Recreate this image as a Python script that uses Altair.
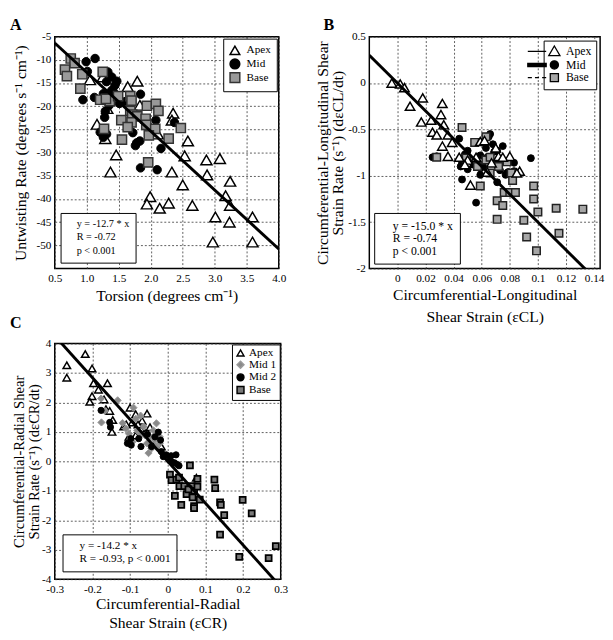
import altair as alt
import pandas as pd

FONT = "Liberation Serif"
MINUS = "replace(datum.label, '\u2212', '-')"

# ---------------- Panel A : torsion vs untwisting rate ----------------
a_apex_x = [1.05, 1.25, 1.16, 1.29, 1.32, 1.46, 1.37, 1.64, 1.79, 1.83, 1.99, 1.94, 2.11, 2.14, 2.28, 2.33, 2.35,
            2.33, 2.50, 2.53, 2.58, 2.65, 2.87, 2.88, 3.08, 3.24, 3.17, 3.24, 3.01, 3.23, 2.97, 3.59, 3.59]
a_apex_y = [-14.3, -13.7, -23.9, -27.0, -20.5, -30.5, -34.2, -15.8, -14.6, -19.8, -39.5, -41.1, -26.0, -42.0, -40.9,
            -34.2, -21.5, -23.0, -37.0, -30.7, -27.5, -41.4, -31.6, -34.8, -31.3, -36.2, -39.3, -41.4, -43.9, -45.0,
            -49.3, -43.9, -49.3]
a_mid_x = [0.99, 1.13, 1.01, 0.94, 1.12, 1.33, 1.39, 1.31, 1.44, 1.39, 1.26, 1.31, 1.44, 1.51, 1.47, 1.84, 1.28,
           1.21, 1.31, 1.26, 1.72, 1.78, 1.83, 1.76, 2.08, 2.16, 1.84, 2.10, 1.29, 1.35, 1.60, 2.37, 1.42]
a_mid_y = [-10.4, -9.7, -12.5, -18.6, -18.1, -12.6, -13.7, -14.7, -15.5, -16.6, -17.3, -18.3, -18.0, -19.4, -14.6,
           -17.4, -22.4, -25.6, -26.0, -26.7, -25.7, -27.9, -27.5, -28.5, -23.0, -29.1, -33.3, -33.7, -21.1, -19.8,
           -19.0, -23.5, -17.0]
a_base_x = [0.75, 0.81, 0.66, 0.69, 0.93, 0.90, 1.25, 1.21, 1.36, 1.49, 1.68, 1.70, 1.68, 1.71, 1.94, 2.08, 2.12,
            1.79, 1.92, 1.54, 1.70, 1.64, 1.93, 2.07, 1.97, 1.27, 1.55, 2.28, 2.47, 1.96, 1.30]
a_base_y = [-9.7, -10.7, -12.1, -13.5, -13.1, -16.2, -12.6, -18.6, -18.9, -17.8, -17.8, -18.8, -21.0, -21.8, -19.9,
            -19.5, -21.0, -22.2, -22.7, -23.0, -23.5, -24.5, -24.0, -24.9, -26.3, -24.9, -27.2, -27.0, -24.7, -32.1,
            -18.4]
a_slope = -12.7
a_fit_x = [0.5, 4.0]
a_notes = ["y = -12.7 * x", "R = -0.72", "p < 0.001"]
a_x_ticks = [0.5, 1.0, 1.5, 2.0, 2.5, 3.0, 3.5, 4.0]
a_y_ticks = [-5, -10, -15, -20, -25, -30, -35, -40, -45, -50]

# ---------------- Panel B : circumferential-longitudinal shear ----------------
b_apex_x = [-0.004, 0.002, 0.005, 0.009, 0.018, 0.017, 0.024, 0.032, 0.031, 0.033, 0.025, 0.028, 0.036, 0.032,
            0.036, 0.039, 0.044, 0.052, 0.059, 0.067, 0.072, 0.087, 0.080, 0.050, 0.062, 0.070, 0.075, 0.048, 0.064,
            0.085, 0.056]
b_apex_y = [0.0, -0.01, -0.05, -0.25, -0.16, -0.42, -0.40, -0.22, -0.34, -0.45, -0.53, -0.56, -0.56, -0.68, -0.79,
            -0.64, -0.80, -1.10, -0.63, -0.86, -0.79, -0.95, -0.79, -0.83, -0.62, -0.70, -0.80, -0.88, -0.96, -0.97,
            -0.80]
b_mid_x = [0.044, 0.025, 0.028, 0.050, 0.046, 0.045, 0.046, 0.050, 0.054, 0.059, 0.065, 0.066, 0.068, 0.069, 0.071,
           0.073, 0.071, 0.077, 0.083, 0.079, 0.095, 0.056, 0.064, 0.059, 0.071, 0.059, 0.061, 0.083, 0.078, 0.050,
           0.048, 0.063, 0.075]
b_mid_y = [-0.60, -0.80, -0.79, -0.73, -0.86, -0.90, -1.04, -0.82, -0.88, -0.78, -0.58, -0.55, -0.66, -0.74, -0.73,
           -0.94, -1.07, -0.99, -0.86, -0.96, -0.81, -1.29, -0.80, -0.92, -0.85, -0.99, -0.90, -0.95, -0.97, -0.93,
           -0.77, -0.70, -0.68]
b_base_x = [0.046, 0.028, 0.055, 0.063, 0.049, 0.057, 0.063, 0.066, 0.059, 0.071, 0.075, 0.078, 0.081, 0.082, 0.076,
            0.080, 0.084, 0.071, 0.090, 0.092, 0.097, 0.097, 0.100, 0.099, 0.113, 0.115, 0.132, 0.066, 0.072]
b_base_y = [-0.48, -0.80, -0.64, -0.58, -0.81, -0.90, -0.83, -0.97, -1.11, -1.27, -1.32, -0.85, -0.97, -1.05, -1.18,
            -1.18, -1.18, -1.47, -1.48, -1.66, -1.11, -1.25, -1.39, -1.81, -1.35, -1.62, -1.36, -0.80, -0.90]
b_slope = -15.0
b_fit_x = [-0.02, 0.1443]
b_notes = ["y = -15.0 * x", "R = -0.74", "p < 0.001"]
b_x_ticks = [0, 0.02, 0.04, 0.06, 0.08, 0.1, 0.12, 0.14]
b_y_ticks = [0.5, 0, -0.5, -1, -1.5, -2]

# ---------------- Panel C : circumferential-radial shear ----------------
c_apex_x = [-0.268, -0.268, -0.219, -0.201, -0.197, -0.201, -0.207, -0.184, -0.160, -0.169, -0.164, -0.154, -0.146,
            -0.148, -0.117, -0.100, -0.094, -0.085, -0.068, -0.055, -0.072, -0.085, -0.103, -0.047, -0.017, 0.076,
            -0.110, -0.060, -0.030, -0.079]
c_apex_y = [3.26, 2.84, 3.64, 3.15, 2.65, 2.21, 2.02, 2.43, 2.65, 2.10, 1.77, 1.71, 1.40, 1.00, 1.18, 1.82, 1.32,
            1.60, 1.38, 1.62, 1.11, 0.88, 0.83, 1.16, 0.50, -0.56, 1.25, 0.95, 0.70, 1.25]
c_mid1_x = [-0.177, -0.167, -0.176, -0.133, -0.091, -0.111, -0.064, -0.030, -0.047, -0.034, -0.051, -0.043, -0.021,
            -0.081, -0.072, -0.103, -0.060, -0.038, -0.094, -0.085, -0.072, -0.030, -0.055, -0.021, -0.120]
c_mid1_y = [2.13, 1.71, 1.32, 2.07, 1.82, 1.11, 1.18, 1.29, 0.83, 0.72, 0.28, 0.44, 0.61, 1.05, 0.94, 0.94, 0.88,
            1.05, 0.66, 1.44, 1.55, 0.50, 0.61, 0.83, 1.30]
c_mid2_x = [-0.177, -0.154, -0.152, -0.107, -0.097, -0.071, -0.098, -0.077, -0.034, -0.025, -0.019, -0.017, -0.004,
            0.009, 0.022, 0.018, 0.026, 0.005, -0.043, -0.054, 0.010, -0.012, 0.030]
c_mid2_y = [1.73, 1.32, 1.16, 0.61, 0.55, 0.50, 0.77, 0.77, 0.83, 0.99, 0.72, 0.33, 0.22, 0.19, 0.22, -0.05, -0.11,
            0.03, 0.50, 0.92, -0.01, 0.16, -0.15]
c_base_x = [0.059, 0.006, 0.010, 0.023, 0.031, 0.019, 0.036, 0.044, 0.050, 0.064, 0.070, 0.066, 0.070, 0.079, 0.079,
            0.085, 0.070, 0.124, 0.126, 0.139, 0.141, 0.150, 0.139, 0.199, 0.223, 0.190, 0.268, 0.287, 0.030, 0.055]
c_base_y = [-0.14, -0.45, -0.64, -0.62, -0.84, -1.17, -1.48, -0.84, -1.11, -0.84, -1.00, -1.22, -1.52, -0.60, -0.86,
            -1.30, -1.59, -0.62, -0.91, -1.39, -1.48, -1.83, -2.49, -1.31, -1.77, -3.24, -3.29, -2.88, -0.55, -0.95]
c_slope = -14.2
c_fit_x = [-0.3, 0.3]
c_notes = ["y = -14.2 * x", "R = -0.93, p < 0.001"]
c_x_ticks = [-0.3, -0.2, -0.1, 0, 0.1, 0.2, 0.3]
c_y_ticks = [4, 3, 2, 1, 0, -1, -2, -3, -4]


def make_axis(title, values, fmt, label_pad, title_pad, line_h=None, title_size=16):
    kw = dict(title=title, values=values, format=fmt, labelExpr=MINUS, grid=True, gridDash=[2, 2],
              gridColor="#333333", gridWidth=0.8, gridOpacity=1, ticks=False, domain=False,
              labelFont=FONT, labelFontSize=11.5, labelColor="black", labelPadding=label_pad,
              labelFlush=False, labelOverlap=False,
              titleFont=FONT, titleFontSize=title_size, titleFontWeight="normal", titleColor="black",
              titlePadding=title_pad)
    if line_h is not None:
        kw["titleLineHeight"] = line_h
    return alt.Axis(**kw)


def series_layer(xs, ys, shape, fill, stroke, size, sw, xe, ye):
    df = pd.DataFrame({"x": xs, "y": ys})
    return alt.Chart(df).mark_point(shape=shape, filled=True, fill=fill, stroke=stroke, size=size,
                                    strokeWidth=sw, opacity=1).encode(x=xe, y=ye)


def fit_layer(fit_x, slope, xe, ye):
    df = pd.DataFrame({"x": fit_x, "y": [slope * v for v in fit_x]})
    return alt.Chart(df).mark_line(color="black", strokeWidth=3, clip=True).encode(x=xe, y=ye)


def legend_layer(names, shapes, fills, strokes, legend):
    df = pd.DataFrame({"k": names})
    return alt.Chart(df).mark_point(filled=True, opacity=0).encode(
        shape=alt.Shape("k:N", scale=alt.Scale(domain=names, range=shapes), legend=legend, title=None),
        fill=alt.Fill("k:N", scale=alt.Scale(domain=names, range=fills), legend=legend, title=None),
        stroke=alt.Stroke("k:N", scale=alt.Scale(domain=names, range=strokes), legend=legend, title=None),
    )


def note_layer(notes, size, offset, padding, row_pad):
    df = pd.DataFrame({"note": notes})
    leg = alt.Legend(title=None, orient="bottom-left", offset=offset, padding=padding, strokeColor="black",
                     fillColor="white", symbolSize=0, symbolOpacity=0, symbolStrokeWidth=0, labelOffset=0,
                     labelFont=FONT, labelFontSize=size, labelColor="black", rowPadding=row_pad, labelLimit=300)
    return alt.Chart(df).mark_point(opacity=0).encode(
        color=alt.Color("note:N", scale=alt.Scale(domain=notes, range=["white"] * len(notes)), legend=leg))


def letter_layer(letter, dx, dy):
    df = pd.DataFrame({"t": [letter]})
    return alt.Chart(df).mark_text(font=FONT, fontSize=16.5, fontWeight="bold", align="left",
                                   baseline="alphabetic", color="black").encode(
        text="t:N", x=alt.value(dx), y=alt.value(dy))


# ---------- A ----------
xA = alt.X("x:Q", scale=alt.Scale(domain=[0.5, 4.0], nice=False, zero=False),
           axis=make_axis("Torsion (degrees cm\u207b\u00b9)", a_x_ticks, ".1f", 4, 4))
yA = alt.Y("y:Q", scale=alt.Scale(domain=[-55, -5], nice=False, zero=False),
           axis=make_axis("Untwisting Rate (degrees s\u207b\u00b9 cm\u207b\u00b9)", a_y_ticks, "d", 4, 8))
legA = alt.Legend(title=None, orient="top-right", offset=2, padding=6, strokeColor="black", fillColor="white",
                  labelFont=FONT, labelFontSize=11.5, labelColor="black", symbolSize=100, symbolOpacity=1,
                  symbolStrokeWidth=1.5, rowPadding=-3, labelOffset=6)
A = alt.layer(
    series_layer(a_apex_x, a_apex_y, "triangle-up", "white", "black", 130, 1.5, xA, yA),
    series_layer(a_mid_x, a_mid_y, "circle", "black", "black", 75, 1, xA, yA),
    series_layer(a_base_x, a_base_y, "square", "#999999", "#333333", 90, 1.5, xA, yA),
    fit_layer(a_fit_x, a_slope, xA, yA),
    legend_layer(["Apex", "Mid", "Base"], ["triangle-up", "circle", "square"], ["white", "black", "#999999"],
                 ["black", "black", "#333333"], legA),
    note_layer(a_notes, 10.5, 6, 6, 3),
    letter_layer("A", -46, -7),
).properties(width=230, height=238)

# ---------- B ----------
xB = alt.X("x:Q", scale=alt.Scale(domain=[-0.02, 0.1443], nice=False, zero=False),
           axis=make_axis(["Circumferential-Longitudinal", "Shear Strain (\u03b5CL)"], b_x_ticks, "~g", 4, 3, 23))
yB = alt.Y("y:Q", scale=alt.Scale(domain=[-2, 0.5], nice=False, zero=False),
           axis=make_axis(["Circumferential-Longitudinal Shear", "Strain Rate (s\u207b\u00b9) (d\u03b5CL/dt)"],
                          b_y_ticks, "~g", 4, 2, 16))
path_apex = "M-5.2,0L-1.6,0M0,-1.05L1.1,0.85L-1.1,0.85Z"
path_mid = "M-5.2,-0.32L-1.6,-0.32L-1.6,0.32L-5.2,0.32ZM0.8,0A0.8,0.8,0,1,1,-0.8,0A0.8,0.8,0,1,1,0.8,0Z"
path_base = "M-5.2,0L-4.4,0M-3.8,0L-3.0,0M-2.4,0L-1.6,0M-0.8,-0.8L0.8,-0.8L0.8,0.8L-0.8,0.8Z"
legB = alt.Legend(title=None, orient="top-right", offset=4, padding=5, strokeColor="black", fillColor="white",
                  labelFont=FONT, labelFontSize=12, labelColor="black", symbolSize=110, symbolOpacity=1,
                  symbolStrokeWidth=1.3, rowPadding=-3, labelOffset=6)
B = alt.layer(
    series_layer(b_mid_x, b_mid_y, "circle", "black", "black", 50, 1, xB, yB),
    series_layer(b_base_x, b_base_y, "square", "#a6a6a6", "#222222", 60, 1.5, xB, yB),
    series_layer(b_apex_x, b_apex_y, "triangle-up", "white", "black", 95, 1.5, xB, yB),
    fit_layer(b_fit_x, b_slope, xB, yB),
    legend_layer(["Apex", "Mid", "Base"], [path_apex, path_mid, path_base], ["white", "black", "#a6a6a6"],
                 ["black", "black", "black"], legB),
    note_layer(b_notes, 12, 5, 7, 1),
    letter_layer("B", -47, -7),
).properties(width=237, height=238)

# ---------- C ----------
xC = alt.X("x:Q", scale=alt.Scale(domain=[-0.3, 0.3], nice=False, zero=False),
           axis=make_axis(["Circumferential-Radial", "Shear Strain (\u03b5CR)"], c_x_ticks, "~g", 5, 1, 19))
yC = alt.Y("y:Q", scale=alt.Scale(domain=[-4, 4], nice=False, zero=False),
           axis=make_axis(["Circumferential-Radial Shear", "Strain Rate (s\u207b\u00b9) (d\u03b5CR/dt)"],
                          c_y_ticks, "d", 4, 0, 15, 15))
legC = alt.Legend(title=None, orient="top-right", offset=1, padding=3, strokeColor="black", fillColor="white",
                  labelFont=FONT, labelFontSize=11.5, labelColor="black", symbolSize=50, symbolOpacity=1,
                  symbolStrokeWidth=1.5, rowPadding=-1, labelOffset=3)
C = alt.layer(
    series_layer(c_apex_x, c_apex_y, "triangle-up", "white", "black", 60, 1.5, xC, yC),
    series_layer(c_mid1_x, c_mid1_y, "diamond", "#8a8a8a", "#9a9a9a", 55, 1, xC, yC),
    series_layer(c_mid2_x, c_mid2_y, "circle", "black", "black", 40, 1, xC, yC),
    series_layer(c_base_x, c_base_y, "square", "#7a7a7a", "black", 38, 1.8, xC, yC),
    fit_layer(c_fit_x, c_slope, xC, yC),
    legend_layer(["Apex", "Mid 1", "Mid 2", "Base"], ["triangle-up", "diamond", "circle", "square"],
                 ["white", "#8a8a8a", "black", "#7a7a7a"], ["black", "#9a9a9a", "black", "black"], legC),
    note_layer(c_notes, 11.5, 8, 6, 1),
    letter_layer("C", -46, -16),
).properties(width=232, height=242)

chart = alt.concat(A, B, C, columns=2, spacing={"row": 77, "column": 91}, bounds="flush").resolve_scale(
    shape="independent", fill="independent", stroke="independent", color="independent"
).configure_view(stroke="black", strokeWidth=1.5).configure_axis(labelFont=FONT).properties(
    padding={"left": 1, "top": 0, "right": 0, "bottom": 0}, background="white"
)

chart.save("out.html", embed_options={"renderer": "svg", "actions": False})
